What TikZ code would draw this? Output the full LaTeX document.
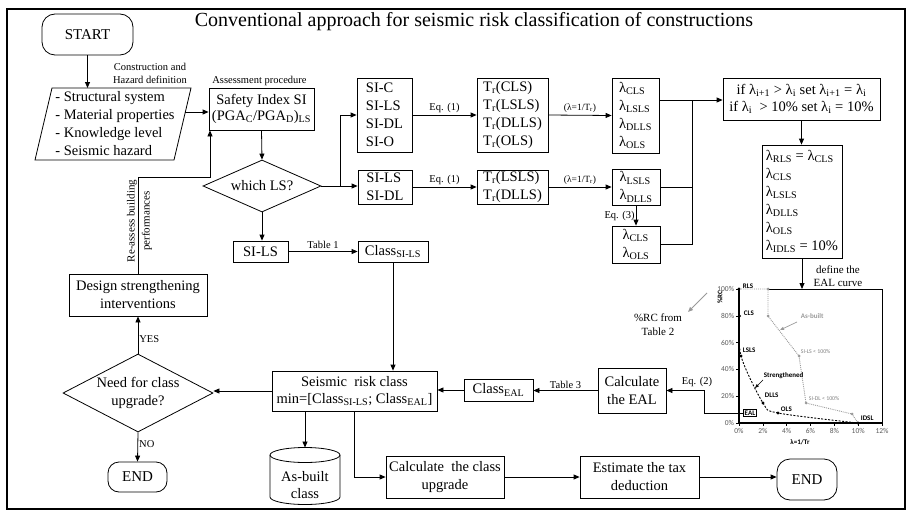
\documentclass[tikz,border=0pt]{standalone}
\usepackage{fontspec}
\setmainfont{Liberation Serif}
\newfontfamily\chartfont{Carlito}
\usetikzlibrary{arrows.meta,shapes.geometric,calc}
\begin{document}
\begin{tikzpicture}[x=1pt,y=-1pt,
  line width=0.8pt,
  >={Triangle[length=6pt,width=5pt]},
  box/.style={draw,rectangle,inner sep=1pt,font=\fontsize{14.5}{18}\selectfont,align=center},
  lbox/.style={box,align=left},
  term/.style={draw,rectangle,rounded corners=13pt,inner sep=1pt,font=\fontsize{15}{18}\selectfont},
  dec/.style={draw,diamond,inner sep=0pt},
  dtext/.style={font=\fontsize{14.5}{18}\selectfont,align=center,inner sep=0pt},
  lab/.style={font=\fontsize{10.5}{12}\selectfont,inner sep=1pt},
  chart/.style={font=\chartfont\bfseries\fontsize{7}{8}\selectfont,inner sep=0.5pt},
  chartn/.style={font=\chartfont\fontsize{5.8}{6.5}\selectfont,inner sep=0.5pt},
  tickl/.style={font=\chartfont\fontsize{7.5}{8}\selectfont,text=black!65,inner sep=0.5pt},
]
\useasboundingbox (0,0) rectangle (910,511);
\draw[line width=1.6pt] (7,9) rectangle (905,509);

\node[font=\fontsize{20}{22}\selectfont] (title) at (474,22) {Conventional approach for seismic risk classification of constructions};

% left column
\node[term,minimum width=91,minimum height=41] (start) at (87.5,34.5) {START};
\draw (52,88) -- (191,88) -- (174,160) -- (35,160) -- cycle;
\node[align=left,anchor=west,inner sep=0pt,font=\fontsize{14.5}{18}\selectfont] (input) at (55,124) {- Structural system\\- Material properties\\- Knowledge level\\- Seismic hazard};
\coordinate (inTop) at (87.5,88);
\coordinate (inR) at (185,112);

\node[box,font=\fontsize{14.5}{16.5}\selectfont,minimum width=105,minimum height=42] (si) at (261.5,109) {Safety Index SI\\(PGA\textsubscript{C}/PGA\textsubscript{D})\textsubscript{LS}};
\node[dec,minimum width=118,minimum height=52] (which) at (262,186) {};
\node[dtext] (whicht) at (which.center) {which LS?};

\node[lbox,minimum width=55,minimum height=74] (sic) at (384.5,115) {SI-C\\SI-LS\\SI-DL\\SI-O};
\node[lbox,minimum width=71,minimum height=74] (tr1) at (512.5,115) {T\textsubscript{r}(CLS)\\T\textsubscript{r}(LSLS)\\T\textsubscript{r}(DLLS)\\T\textsubscript{r}(OLS)};
\node[lbox,minimum width=47,minimum height=75] (lam1) at (635.5,115.5) {λ\textsubscript{CLS}\\λ\textsubscript{LSLS}\\λ\textsubscript{DLLS}\\λ\textsubscript{OLS}};
\node[box,font=\fontsize{14.5}{17}\selectfont,minimum width=157,minimum height=42] (ifb) at (801.5,99) {if λ\textsubscript{i+1} > λ\textsubscript{i} set λ\textsubscript{i+1} = λ\textsubscript{i}\\if λ\textsubscript{i} \ > 10\% set λ\textsubscript{i} = 10\%};
\node[lbox,minimum width=80,minimum height=113] (lamall) at (802,201.5) {λ\textsubscript{RLS} = λ\textsubscript{CLS}\\λ\textsubscript{CLS}\\λ\textsubscript{LSLS}\\λ\textsubscript{DLLS}\\λ\textsubscript{OLS}\\λ\textsubscript{IDLS} = 10\%};

\node[lbox,minimum width=54,minimum height=34] (si2) at (385,187) {SI-LS\\SI-DL};
\node[lbox,minimum width=71,minimum height=34] (tr2) at (512.5,187) {T\textsubscript{r}(LSLS)\\T\textsubscript{r}(DLLS)};
\node[lbox,minimum width=48,minimum height=36] (lam2) at (636,187) {λ\textsubscript{LSLS}\\λ\textsubscript{DLLS}};
\node[lbox,minimum width=48,minimum height=37] (lam3) at (636,244.5) {λ\textsubscript{CLS}\\λ\textsubscript{OLS}};

\node[box,minimum width=55,minimum height=21] (sils) at (260.5,251.5) {SI-LS};
\node[box,minimum width=70,minimum height=21] (csils) at (393,251.5) {Class\textsubscript{SI-LS}};
\node[box,minimum width=138,minimum height=42] (design) at (138,295) {Design strengthening\\interventions};
\node[dec,minimum width=150,minimum height=78] (need) at (138,393) {};
\node[dtext] (needt) at (need.center) {Need for class\\upgrade?};
\node[box,font=\fontsize{14.5}{17}\selectfont,minimum width=165,minimum height=40] (risk) at (354.5,391) {Seismic\ \ risk class\\min=[Class\textsubscript{SI-LS}; Class\textsubscript{EAL}]};
\node[box,minimum width=69,minimum height=22] (ceal) at (498.5,390) {Class\textsubscript{EAL}};
\node[box,minimum width=68,minimum height=45] (calc) at (632,390.5) {Calculate\\the EAL};
\node[term,rounded corners=11pt,minimum width=59,minimum height=30] (end1) at (137.5,477) {END};
% cylinder
\draw (270,455) -- (270,497) arc[start angle=180,end angle=360,x radius=35pt,y radius=7.5pt] -- (340,455);
\draw (305,455) ellipse[x radius=35pt,y radius=7.5pt];
\coordinate (asbTop) at (305,447.5);
\node[dtext,font=\fontsize{14.5}{17}\selectfont] (asb) at (305,485) {As-built\\class};
\node[box,minimum width=118,minimum height=42] (cup) at (445,477) {Calculate\ \ the class\\upgrade};
\node[box,minimum width=119,minimum height=42] (tax) at (639.5,477) {Estimate the tax\\deduction};
\node[term,minimum width=60,minimum height=41] (end2) at (807,479.5) {END};

% connectors
\draw[->] (start.south) -- (inTop);
\node[lab,align=center,font=\fontsize{10.5}{13}\selectfont] (lbl1) at (150,73.5) {Construction and\\Hazard definition};
\draw[->] (inR) -- (inR -| si.west);
\node[lab,anchor=south west] (lbl2) at (211,87) {Assessment procedure};
\draw[->] (si.south) -- (which.north);
\coordinate (br) at (340,186);
\draw (which.east) -- (br);
\draw[->] (br) |- (sic.west);
\draw[->] (br) -- (br -| si2.west);
\draw[->] (sic.east) -- (tr1.west) node[midway,above,lab,yshift=1pt] {Eq. (1)};
\draw[->] (tr1.east) -- (lam1.west) node[midway,above,lab,font=\fontsize{9.5}{11}\selectfont,yshift=1pt] {(λ=1/T\textsubscript{r})};
\draw[->] (si2.east) -- (tr2.west) node[midway,above,lab,yshift=1pt] {Eq. (1)};
\draw[->] (tr2.east) -- (lam2.west) node[midway,above,lab,font=\fontsize{9.5}{11}\selectfont,yshift=1pt] {(λ=1/T\textsubscript{r})};
\draw[->] (lam2.south) -- (lam3.north) node[midway,left,lab] {Eq. (3)};
\coordinate (mg) at (692,100);
\draw (lam1.east |- mg) -- (mg);
\draw (lam2.east) -- (lam2.east -| mg);
\draw (lam3.east) -- (lam3.east -| mg) -- (mg);
\draw[->] (mg) -- (mg -| ifb.west);
\draw[->] (ifb.south) -- (ifb.south |- lamall.north);
\coordinate (gtop) at (802,289);
\draw[->] (lamall.south) -- (gtop);
\node[lab,align=center,font=\fontsize{11}{12.5}\selectfont] (lbl3) at (838,276) {define the\\EAL curve};
\draw[->] (which.south) -- (which.south |- sils.north);
\draw[->] (sils.east) -- (csils.west) node[midway,above,lab,yshift=1pt] {Table 1};
\draw[->] (csils.south) -- (csils.south |- risk.north);
\draw[->] (calc.west) -- (calc.west -| ceal.east) node[midway,above,lab,yshift=1pt] {Table 3};
\draw[->] (ceal.west) -- (ceal.west -| risk.east);
\draw[->] (risk.west) -- (risk.west -| need.east);
\draw[->] (need.north) -- (design.south) node[pos=0.4,right,lab] {YES};
\draw[->] (need.south) -- (end1.north) node[pos=0.4,right,lab] {NO};
\coordinate (reas) at (210,177);
\draw[->] (design.north) |- (reas) -- (reas |- si.south);
\node[lab,rotate=90,align=center,font=\fontsize{11}{15}\selectfont] (lbl4) at (139.5,221) {Re-assess building\\performances};
\draw[->] (asbTop |- risk.south) -- (asbTop);
\draw[->] (risk.south) |- (cup.west);
\draw[->] (cup.east) -- (tax.west);
\draw[->] (tax.east) -- (tax.east -| end2.west);

% chart
\draw (768,289) -- (882,289) -- (882,423);
\foreach \v in {0,20,...,100} {
  \draw[line width=0.6pt] (736,{423-1.34*\v}) -- (739,{423-1.34*\v});
  \node[tickl,anchor=east] at (735,{423-1.34*\v}) {\v\%};
}
\foreach \v in {0,2,...,12} {
  \draw[line width=0.6pt] ({739+11.917*\v},423) -- ({739+11.917*\v},426);
  \node[tickl,anchor=north] at ({739+11.917*\v},427) {\v\%};
}
\draw[line width=1.3pt] (739,289) -- (739,423) -- (882,423);
\node[chart,rotate=90] (ylab) at (720,297) {\%RC};
\node[chart] (xlab) at (800,442) {λ=1/Tr};
\draw[black!40,densely dotted,line width=0.9pt] (739,289) -- (768,289) -- (768,316) -- (799,356) -- (806,403) -- (852,414) -- (858,423);
\foreach \p in {(768,289),(768,316),(799,356),(806,403),(852,414)} \fill[black!40] \p circle[radius=1.5pt];
\draw[dash pattern=on 2pt off 1.5pt,line width=0.9pt] plot[smooth,tension=0.5] coordinates {(739,289) (739.5,316) (741,356) (763,403) (778,413) (858,423)};
\foreach \p in {(739,289),(739.5,316),(741,356),(763,403),(778,413),(858,423)} \fill \p circle[radius=1.6pt];
\node[chart,anchor=west] (pRLS) at (742,286) {RLS};
\node[chart,anchor=west] (pCLS) at (743,313) {CLS};
\node[chart,anchor=west] (pLSLS) at (742,350) {LSLS};
\node[chart,anchor=west] (pStr) at (763,376) {Strengthened};
\draw[-{Triangle[length=4pt,width=3pt]},line width=0.6pt] (pStr.south west) -- (755,388);
\node[chart,anchor=west] (pDLLS) at (764,395) {DLLS};
\node[chart,anchor=west] (pOLS) at (780,409) {OLS};
\node[chart,anchor=west] (pIDSL) at (860,418) {IDSL};
\node[chart,text=black!40,anchor=west] (pAB) at (800,316) {As-built};
\draw[black!40,-{Triangle[length=4pt,width=3pt]},line width=0.7pt] (797,322) -- (780,330);
\node[chartn,text=black!50,anchor=west] (pSILS) at (800,352) {SI-LS < 100\%};
\node[chartn,text=black!50,anchor=west] (pSIDL) at (808,399) {SI-DL < 100\%};
\node[chart,draw,line width=0.6pt,inner sep=1pt] (ealbox) at (750,413) {EAL};
\draw[->] (ealbox.west) -- (704,413) |- (calc.east);
\node[lab] (lbl5) at (697,382) {Eq. (2)};
\node[align=center,font=\fontsize{11}{14}\selectfont] (rcnote) at (658,325) {\%RC from\\Table 2};
\draw[black!40,line width=1pt,-{Triangle[length=5pt,width=4pt]}] (707,293) -- (688,312);
\end{tikzpicture}
\end{document}
